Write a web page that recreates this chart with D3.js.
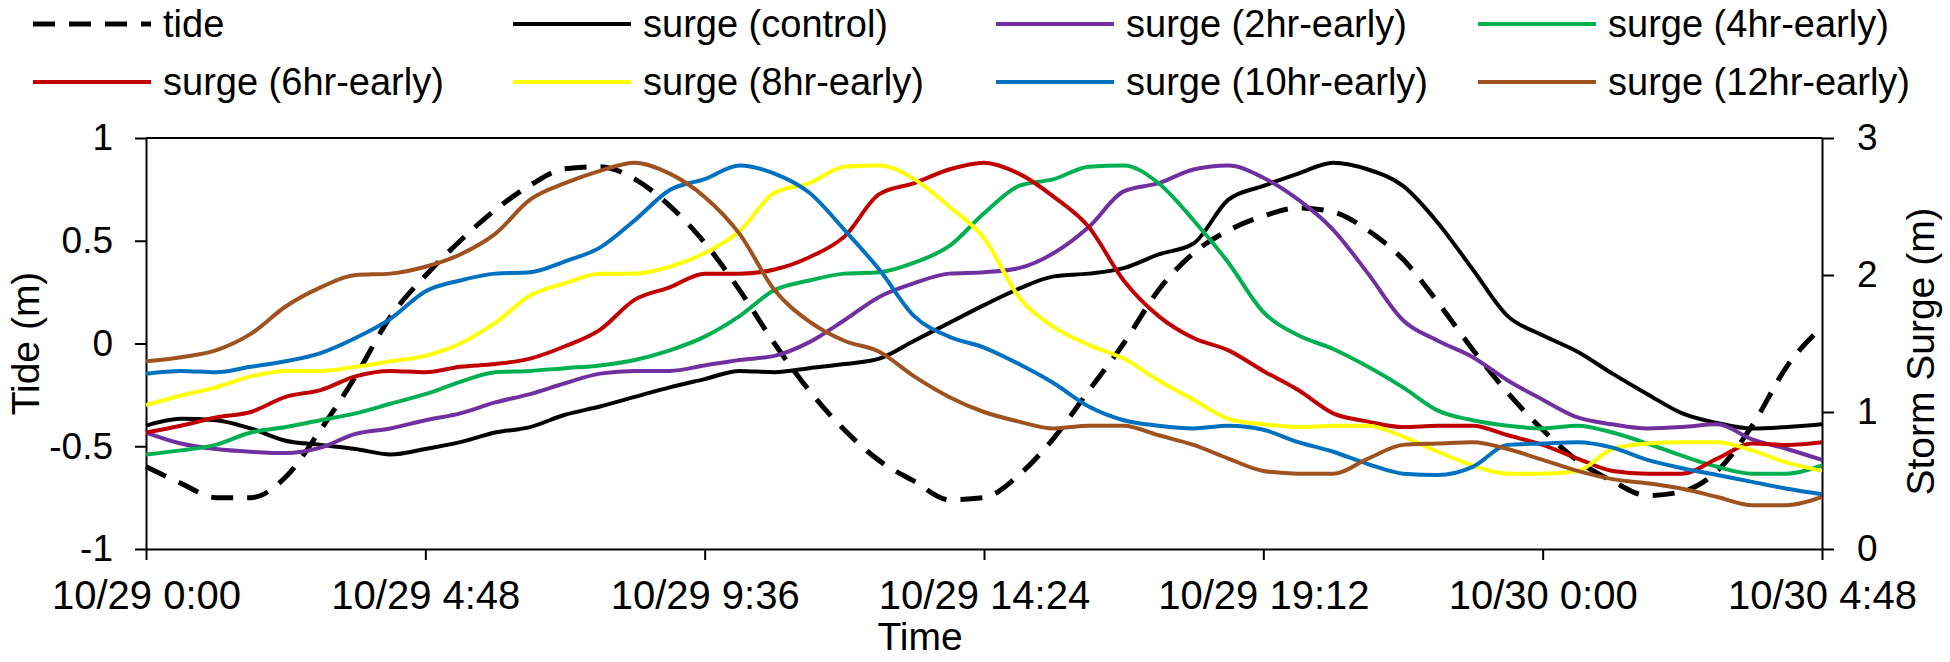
<!DOCTYPE html>
<html>
<head>
<meta charset="utf-8">
<script src="https://cdn.jsdelivr.net/npm/d3@7"></script>
<style>
  body { margin: 0; background: #fff; }
  text { font-family: "Liberation Sans", Arial, sans-serif; }
</style>
</head>
<body>
<svg width="1950" height="662"></svg>
<script>

// hours after 10/29 0:00
var hours = [0, 0.6, 1.2, 1.8, 2.4, 3, 3.6, 4.2, 4.8, 5.4, 6, 6.6, 7.2, 7.8, 8.4, 9, 9.6, 10.2, 10.8, 11.4,
             12, 12.6, 13.2, 13.8, 14.4, 15, 15.6, 16.2, 16.8, 17.4, 18, 18.6, 19.2, 19.8, 20.4, 21, 21.6, 22.2,
             22.8, 23.4, 24, 24.6, 25.2, 25.8, 26.4, 27, 27.6, 28.2, 28.8];

// tide (m), left axis
var tide = [-0.60, -0.68, -0.75, -0.75, -0.65, -0.42, -0.16, 0.13, 0.33, 0.50, 0.65, 0.77, 0.85, 0.86, 0.80,
            0.67, 0.49, 0.26, 0.00, -0.23, -0.42, -0.57, -0.67, -0.76, -0.75, -0.64, -0.46, -0.23, 0.00, 0.26,
            0.44, 0.55, 0.62, 0.66, 0.64, 0.55, 0.41, 0.20, -0.03, -0.24, -0.42, -0.57, -0.67, -0.74, -0.72,
            -0.62, -0.40, -0.11, 0.08];

// storm surge (m), right axis
var surgeControl = [0.90, 0.95, 0.94, 0.88, 0.79, 0.76, 0.73, 0.69, 0.73, 0.78, 0.85, 0.89, 0.98, 1.04, 1.11,
                    1.18, 1.24, 1.30, 1.29, 1.32, 1.35, 1.39, 1.52, 1.65, 1.78, 1.90, 1.99, 2.01, 2.05, 2.15,
                    2.23, 2.55, 2.65, 2.74, 2.82, 2.77, 2.65, 2.38, 2.04, 1.70, 1.56, 1.44, 1.28, 1.13, 0.99,
                    0.92, 0.88, 0.89, 0.91];
var surge2hr = [0.85, 0.77, 0.73, 0.71, 0.70, 0.74, 0.84, 0.88, 0.94, 0.99, 1.07, 1.13, 1.21, 1.28, 1.30,
                1.30, 1.34, 1.38, 1.41, 1.51, 1.67, 1.84, 1.94, 2.01, 2.02, 2.05, 2.16, 2.35, 2.61, 2.67,
                2.77, 2.80, 2.71, 2.55, 2.33, 2.01, 1.67, 1.52, 1.40, 1.23, 1.09, 0.96, 0.91, 0.88, 0.89,
                0.91, 0.80, 0.73, 0.65];
var surge4hr = [0.69, 0.72, 0.76, 0.85, 0.89, 0.94, 0.99, 1.06, 1.13, 1.22, 1.29, 1.30, 1.32, 1.34, 1.38,
                1.45, 1.55, 1.70, 1.89, 1.96, 2.01, 2.02, 2.09, 2.21, 2.45, 2.65, 2.70, 2.79, 2.80, 2.67,
                2.40, 2.09, 1.73, 1.56, 1.46, 1.33, 1.18, 1.01, 0.94, 0.90, 0.88, 0.90, 0.85, 0.77, 0.68,
                0.60, 0.55, 0.55, 0.61];
var surge6hr = [0.85, 0.90, 0.96, 1.00, 1.11, 1.16, 1.26, 1.30, 1.29, 1.33, 1.35, 1.39, 1.48, 1.60, 1.82,
                1.91, 2.01, 2.01, 2.04, 2.13, 2.28, 2.59, 2.67, 2.77, 2.82, 2.74, 2.57, 2.35, 1.96, 1.70,
                1.54, 1.45, 1.30, 1.16, 0.99, 0.93, 0.89, 0.90, 0.90, 0.83, 0.76, 0.66, 0.57, 0.55, 0.55,
                0.66, 0.77, 0.76, 0.78];
var surge8hr = [1.05, 1.12, 1.18, 1.26, 1.30, 1.30, 1.33, 1.37, 1.41, 1.50, 1.65, 1.85, 1.94, 2.01, 2.01,
                2.06, 2.16, 2.32, 2.60, 2.67, 2.79, 2.80, 2.70, 2.50, 2.27, 1.84, 1.62, 1.49, 1.39, 1.23,
                1.09, 0.95, 0.91, 0.89, 0.90, 0.90, 0.82, 0.71, 0.61, 0.55, 0.55, 0.57, 0.73, 0.77, 0.78,
                0.78, 0.72, 0.63, 0.57];
var surge10hr = [1.28, 1.30, 1.29, 1.33, 1.37, 1.43, 1.54, 1.68, 1.88, 1.96, 2.01, 2.02, 2.10, 2.20, 2.40,
                 2.62, 2.70, 2.80, 2.74, 2.60, 2.33, 2.04, 1.70, 1.55, 1.47, 1.35, 1.21, 1.04, 0.94, 0.90,
                 0.88, 0.90, 0.87, 0.78, 0.71, 0.62, 0.55, 0.54, 0.60, 0.76, 0.77, 0.78, 0.74, 0.65, 0.59,
                 0.54, 0.49, 0.44, 0.40];
var surge12hr = [1.37, 1.40, 1.45, 1.57, 1.77, 1.91, 2.00, 2.01, 2.06, 2.15, 2.30, 2.55, 2.67, 2.76, 2.82,
                 2.74, 2.57, 2.30, 1.89, 1.66, 1.52, 1.44, 1.26, 1.11, 1.00, 0.93, 0.88, 0.90, 0.90, 0.83,
                 0.76, 0.66, 0.57, 0.55, 0.55, 0.66, 0.76, 0.77, 0.78, 0.73, 0.65, 0.57, 0.51, 0.48, 0.44,
                 0.38, 0.32, 0.32, 0.38];

var legendNames = ["tide", "surge (control)", "surge (2hr-early)", "surge (4hr-early)",
                   "surge (6hr-early)", "surge (8hr-early)", "surge (10hr-early)", "surge (12hr-early)"];
var xTickValues = [0, 4.8, 9.6, 14.4, 19.2, 24, 28.8];
var xTickLabels = ["10/29 0:00", "10/29 4:48", "10/29 9:36", "10/29 14:24", "10/29 19:12", "10/30 0:00", "10/30 4:48"];
var tideTicks = [-1, -0.5, 0, 0.5, 1];
var surgeTicks = [0, 1, 2, 3];

var surges = [surgeControl, surge2hr, surge4hr, surge6hr, surge8hr, surge10hr, surge12hr];
var colors = ["#000000", "#7030a0", "#00b050", "#c00000", "#ffff00", "#0070c0", "#a0521e"];

var svg = d3.select("svg"),
    margin = {top: 138, right: 128, bottom: 113, left: 146},
    width = +svg.attr("width") - margin.left - margin.right,
    height = +svg.attr("height") - margin.top - margin.bottom,
    chart = svg.append("g").attr("transform", "translate(" + margin.left + "," + margin.top + ")");

var xScale = d3.scaleLinear().domain([0, 28.8]).range([0, width]);
var yTide = d3.scaleLinear().domain([-1, 1]).range([height, 0]);
var ySurge = d3.scaleLinear().domain([0, 3]).range([height, 0]);

// axes
function styleAxis(g, size) {
  g.select(".domain").attr("stroke", "#000").attr("stroke-width", 2);
  g.selectAll(".tick line").attr("stroke", "#000").attr("stroke-width", 2);
  g.selectAll(".tick text").attr("fill", "#000")
   .attr("font-family", '"Liberation Sans", Arial, sans-serif').attr("font-size", size);
}

chart.append("g")
     .call(d3.axisLeft(yTide).tickValues(tideTicks).tickFormat(function(d) { return String(d); })
             .tickSize(11).tickSizeOuter(0).tickPadding(22))
     .call(styleAxis, 37);

chart.append("g")
     .attr("transform", "translate(" + width + ",0)")
     .call(d3.axisRight(ySurge).tickValues(surgeTicks).tickFormat(function(d) { return String(d); })
             .tickSize(12).tickSizeOuter(0).tickPadding(23))
     .call(styleAxis, 37);

chart.append("g")
     .attr("transform", "translate(0," + height + ")")
     .call(d3.axisBottom(xScale).tickValues(xTickValues).tickFormat(function(d, i) { return xTickLabels[i]; })
             .tickSize(11).tickSizeOuter(0).tickPadding(21))
     .call(styleAxis, 40);

// top border
chart.append("line")
     .attr("x1", 0).attr("x2", width)
     .attr("y1", yTide(1)).attr("y2", yTide(1))
     .attr("stroke", "#000").attr("stroke-width", 2);

// axis titles
chart.append("text")
     .attr("transform", "translate(-121," + height / 2 + ") rotate(-90)")
     .attr("text-anchor", "middle").attr("dy", "0.35em")
     .attr("font-size", 39).text("Tide (m)");

chart.append("text")
     .attr("transform", "translate(" + (width + 98) + "," + (height / 2 + 8) + ") rotate(-90)")
     .attr("text-anchor", "middle").attr("dy", "0.35em")
     .attr("font-size", 39).text("Storm Surge (m)");

chart.append("text")
     .attr("x", 774).attr("y", 512)
     .attr("text-anchor", "middle")
     .attr("font-size", 39).text("Time");

// lines
var tideLine = d3.line()
                 .x(function(d, i) { return xScale(hours[i]); })
                 .y(function(d) { return yTide(d); })
                 .curve(d3.curveMonotoneX);

var surgeLine = d3.line()
                  .x(function(d, i) { return xScale(hours[i]); })
                  .y(function(d) { return ySurge(d); })
                  .curve(d3.curveMonotoneX);

chart.append("path")
     .datum(tide)
     .attr("d", tideLine)
     .attr("fill", "none").attr("stroke", "#000")
     .attr("stroke-width", 5).attr("stroke-dasharray", "22,14");

chart.selectAll(".surge")
     .data(surges)
     .enter()
     .append("path")
     .attr("class", "surge")
     .attr("d", surgeLine)
     .attr("fill", "none")
     .attr("stroke", function(d, i) { return colors[i]; })
     .attr("stroke-width", 4);

// legend, 4 columns x 2 rows
var legendX = [33, 513, 996, 1478],
    legendY = [24, 82];

var legend = svg.selectAll(".legend")
                .data(legendNames)
                .enter()
                .append("g")
                .attr("class", "legend")
                .attr("transform", function(d, i) {
                  return "translate(" + legendX[i % 4] + "," + legendY[Math.floor(i / 4)] + ")";
                });

legend.append("line")
      .attr("x1", 0).attr("x2", 118)
      .attr("stroke", function(d, i) { return i === 0 ? "#000" : colors[i - 1]; })
      .attr("stroke-width", function(d, i) { return i === 0 ? 5 : 4; })
      .attr("stroke-dasharray", function(d, i) { return i === 0 ? "22,14" : null; });

legend.append("text")
      .attr("x", 130).attr("y", 13)
      .attr("font-size", 38)
      .text(function(d) { return d; });

</script>
</body>
</html>
